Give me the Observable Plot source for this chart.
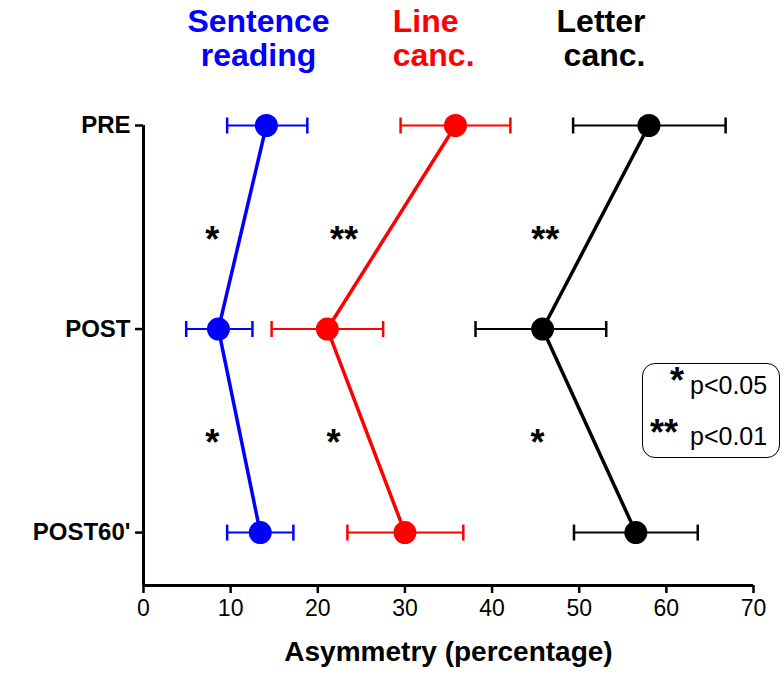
<!DOCTYPE html>
<html>
<head>
<meta charset="utf-8">
<script src="https://cdn.jsdelivr.net/npm/d3@7"></script>
<script src="https://cdn.jsdelivr.net/npm/@observablehq/plot@0.6"></script>
<style>
  body { margin: 0; background: #fff; }
  #wrap { position: relative; width: 784px; height: 674px; font-family: "Liberation Sans", Arial, sans-serif; }
  #legend { position: absolute; left: 642px; top: 363px; width: 138px; height: 95px;
    border: 1.5px solid #000; border-radius: 13px; box-sizing: border-box; }
  #legend .st { position: absolute; font-weight: bold; font-size: 36px; line-height: 1; }
  #legend .p { position: absolute; font-size: 25px; line-height: 1; }
</style>
</head>
<body>
<div id="wrap">
  <div id="chart"></div>
  <div id="legend">
    <span class="st" style="left:27px;top:-1px">*</span>
    <span class="p" style="left:47px;top:9px">p&lt;0.05</span>
    <span class="st" style="left:7px;top:51px">**</span>
    <span class="p" style="left:47px;top:60px">p&lt;0.01</span>
  </div>
</div>
<script>
// ---- data ----
const conditions = ["PRE", "POST", "POST60'"];
const tasks = ["Sentence reading", "Line canc.", "Letter canc."];
const taskColors = ["#0000ff", "#ff0000", "#000000"];

const sentenceMean = [14.1, 8.6, 13.4];
const sentenceLo   = [9.6, 4.9, 9.6];
const sentenceHi   = [18.8, 12.5, 17.2];

const lineMean = [35.8, 21.1, 30.0];
const lineLo   = [29.5, 14.7, 23.4];
const lineHi   = [42.1, 27.5, 36.7];

const letterMean = [58.0, 45.8, 56.5];
const letterLo   = [49.3, 38.1, 49.4];
const letterHi   = [66.8, 53.1, 63.6];

const xTicks = [0, 10, 20, 30, 40, 50, 60, 70];
const xLabel = "Asymmetry (percentage)";

// significance annotations (between consecutive conditions)
const sigText = ["*", "**", "**", "*", "*", "*"];
const sigX    = [7.9, 23.0, 46.1, 7.9, 21.8, 45.2];
const sigGap  = [0.5, 0.5, 0.5, 1.5, 1.5, 1.5];

// ---- build table ----
const series = [
  [sentenceMean, sentenceLo, sentenceHi],
  [lineMean, lineLo, lineHi],
  [letterMean, letterLo, letterHi]
];
const rows = [];
tasks.forEach((t, k) => {
  conditions.forEach((c, i) => {
    rows.push({task: t, cond: c, ci: i, mean: series[k][0][i], lo: series[k][1][i], hi: series[k][2][i]});
  });
});
const sig = sigText.map((s, i) => ({s, x: sigX[i], y: sigGap[i]}));

const yMax = 2.26;
const capSymbol = {
  draw(context, size) {
    const h = Math.sqrt(size / Math.PI);
    context.moveTo(0, -h);
    context.lineTo(0, h);
  }
};

const titleFont = {fontSize: 32, fontWeight: "bold", lineAnchor: "top", lineHeight: 1.06, frameAnchor: "top", dy: -118};

const chart = Plot.plot({
  width: 784,
  height: 674,
  marginLeft: 143,
  marginRight: 31,
  marginTop: 125,
  marginBottom: 89,
  style: {fontFamily: "'Liberation Sans', Arial, sans-serif", background: "#fff", color: "#000", overflow: "visible"},
  x: {domain: [0, 70]},
  y: {domain: [0, yMax], reverse: true},
  color: {domain: tasks, range: taskColors},
  marks: [
    Plot.ruleX([0], {strokeWidth: 3}),
    Plot.ruleY([yMax], {strokeWidth: 3}),
    Plot.axisX({ticks: xTicks, tickSize: 8, tickPadding: 6, fontSize: 23, strokeWidth: 2.5, label: null}),
    Plot.axisY({ticks: [0, 1, 2], tickFormat: (i) => conditions[i], tickSize: 8, tickPadding: 5,
      fontSize: 24, fontWeight: "bold", strokeWidth: 2.5, label: null}),
    Plot.ruleY(rows, {y: "ci", x1: "lo", x2: "hi", stroke: "task", strokeWidth: 2}),
    Plot.dot(rows, {x: "lo", y: "ci", symbol: capSymbol, r: 8, stroke: "task", strokeWidth: 2.5}),
    Plot.dot(rows, {x: "hi", y: "ci", symbol: capSymbol, r: 8, stroke: "task", strokeWidth: 2.5}),
    Plot.line(rows, {x: "mean", y: "ci", z: "task", stroke: "task", strokeWidth: 3.5}),
    Plot.dot(rows, {x: "mean", y: "ci", r: 11.5, fill: "task", stroke: null}),
    Plot.text(sig, {x: "x", y: "y", text: "s", fontSize: 36, fontWeight: "bold", dy: 13}),
    Plot.text([{t: "Sentence\nreading", x: 13.2}], {x: "x", text: "t", fill: taskColors[0], textAnchor: "middle", ...titleFont}),
    Plot.text([{t: "Line\ncanc.", x: 28.6}], {x: "x", text: "t", fill: taskColors[1], textAnchor: "start", ...titleFont}),
    Plot.text([{t: "Letter\ncanc.", x: 57.6}], {x: "x", text: "t", fill: taskColors[2], textAnchor: "end", ...titleFont}),
    Plot.text([xLabel], {text: (d) => d, frameAnchor: "bottom", lineAnchor: "top", dy: 56, fontSize: 28, fontWeight: "bold"})
  ]
});
document.getElementById("chart").appendChild(chart);
</script>
</body>
</html>
